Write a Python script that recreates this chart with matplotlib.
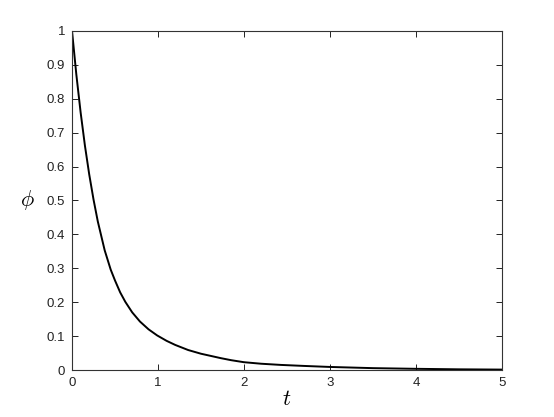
import matplotlib
matplotlib.use("Agg")
import matplotlib.pyplot as plt
from matplotlib.ticker import FormatStrFormatter

t = [0, 0.05, 0.10, 0.15, 0.20, 0.25, 0.30, 0.38, 0.45, 0.50, 0.56, 0.62,
     0.70, 0.79, 0.89, 0.99, 1.10, 1.20, 1.35, 1.50, 1.73, 1.85, 2.00, 2.20,
     2.43, 2.70, 3.00, 3.50, 4.00, 4.50, 5.00]
phi = [1.0, 0.872, 0.760, 0.662, 0.577, 0.503, 0.438, 0.353, 0.296, 0.264,
       0.229, 0.201, 0.170, 0.143, 0.120, 0.102, 0.086, 0.074, 0.059, 0.048,
       0.035, 0.029, 0.023, 0.0185, 0.015, 0.012, 0.009, 0.0055, 0.0035,
       0.002, 0.0012]

xticks = [0, 1, 2, 3, 4, 5]
yticks = [0, 0.1, 0.2, 0.3, 0.4, 0.5, 0.6, 0.7, 0.8, 0.9, 1.0]

plt.rcParams['mathtext.fontset'] = 'cm'
plt.rcParams['font.family'] = ['Liberation Sans', 'DejaVu Sans']

fig = plt.figure(figsize=(5.54, 4.17), dpi=100)
ax = fig.add_axes([0.130, 0.1127, 0.776, 0.813])
ax.plot(t, phi, color='black', lw=1.4)
ax.set_xlim(0, 5)
ax.set_ylim(0, 1)
ax.set_xticks(xticks)
ax.set_yticks(yticks)
ax.yaxis.set_major_formatter(FormatStrFormatter('%g'))
ax.xaxis.set_major_formatter(FormatStrFormatter('%g'))
ax.tick_params(direction='in', top=True, right=True, length=4, width=0.7,
               labelsize=9.5, colors='#222222', pad=5)
for s in ax.spines.values():
    s.set_linewidth(0.8)
    s.set_color('#333333')
ax.set_xlabel(r'$t$', fontsize=16, labelpad=0)
ax.set_ylabel(r'$\phi$', fontsize=16, rotation=0, labelpad=14, va='center')
fig.savefig('out.png', dpi=100)
